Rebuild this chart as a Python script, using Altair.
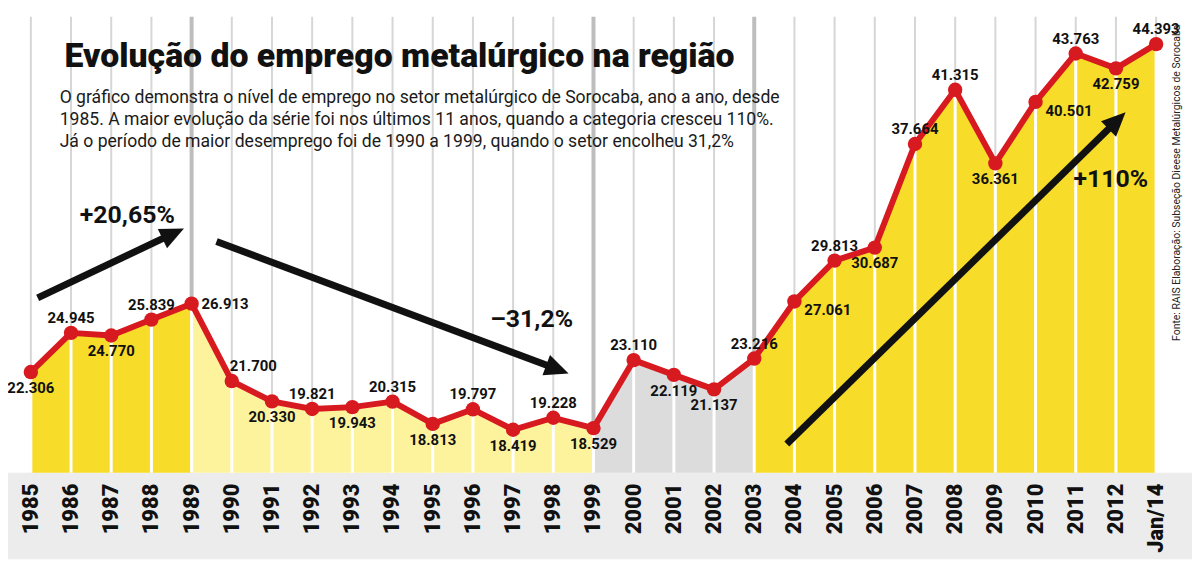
import math
import altair as alt
import pandas as pd

# ---------------- data ----------------
years = ["1985", "1986", "1987", "1988", "1989", "1990", "1991", "1992", "1993", "1994",
         "1995", "1996", "1997", "1998", "1999", "2000", "2001", "2002", "2003", "2004",
         "2005", "2006", "2007", "2008", "2009", "2010", "2011", "2012", "Jan/14"]
values = [22306, 24945, 24770, 25839, 26913, 21700, 20330, 19821, 19943, 20315,
          18813, 19797, 18419, 19228, 18529, 23110, 22119, 21137, 23216, 27061,
          29813, 30687, 37664, 41315, 36361, 40501, 43763, 42759, 44393]
# where each value label sits relative to its point
placement = ["b", "a", "b", "a", "r", "ar", "b", "a", "b", "a",
             "b", "a", "b", "a", "b", "a", "b", "b", "a", "br",
             "a", "b", "a", "a", "b", "br", "a", "b", "a"]
# coloured periods (first index, last index)
periods = [("p1", 0, 4), ("p2", 4, 14), ("p3", 14, 18), ("p4", 18, 28)]
period_colors = ["#f7dc2a", "#fdf39c", "#dcdcdc", "#f7dc2a"]
thick_years = ["1989", "1999", "2003"]

# annotation arrows (start index, start value) -> (tip index, tip value)
arrow_start_x = [0.17, 4.62, 18.81]
arrow_start_y = [27300, 31100, 17460]
arrow_tip_x = [3.81, 13.38, 27.24]
arrow_tip_y = [31980, 22210, 39800]
ann_text = ["+20,65%", "\u201331,2%", "+110%"]
ann_x = [2.40, 12.46, 26.87]
ann_y = [32850, 25870, 35320]

title = "Evolução do emprego metalúrgico na região"
subtitle = [
    "O gráfico demonstra o nível de emprego no setor metalúrgico de Sorocaba, ano a ano, desde",
    "1985. A maior evolução da série foi nos últimos 11 anos, quando a categoria cresceu 110%.",
    "Já o período de maior desemprego foi de 1990 a 1999, quando o setor encolheu 31,2%",
]
source = "Fonte: RAIS  Elaboração: Subseção Dieese Metalúrgicos de Sorocaba"

# ---------------- scales ----------------
W, H = 1192, 553
X0, X1 = -0.5685, 28.893
Y0, Y1 = 9706, 46700
BASE = 15525
GRID_TOP = 46230

xs = alt.Scale(domain=[X0, X1], nice=False, zero=False)
ys = alt.Scale(domain=[Y0, Y1], nice=False, zero=False)


def px(i):
    return (i - X0) / (X1 - X0) * W


def py(v):
    return H - (v - Y0) / (Y1 - Y0) * H


def ix(p):
    return X0 + p / W * (X1 - X0)


def iy(p):
    return Y0 + (H - p) / H * (Y1 - Y0)


def fmt(v):
    return f"{v:,}".replace(",", ".")


pts = pd.DataFrame({
    "i": list(range(len(years))),
    "year": years,
    "v": values,
    "lab": [fmt(v) for v in values],
    "pos": placement,
    "base": BASE,
    "top": GRID_TOP,
    "thick": [y in thick_years for y in years],
})

# arrows: shaft and head in data coordinates
shafts, heads = [], []
for sx_, sy_, tx_, ty_ in zip(arrow_start_x, arrow_start_y, arrow_tip_x, arrow_tip_y):
    p0x, p0y = px(sx_), py(sy_)
    p1x, p1y = px(tx_), py(ty_)
    dx, dy = p1x - p0x, p1y - p0y
    L = math.hypot(dx, dy)
    ux, uy = dx / L, dy / L
    ex, ey = p1x - ux * 14, p1y - uy * 14
    hx, hy = p1x - ux * 12, p1y - uy * 12
    ang = math.degrees(math.atan2(dx, -dy)) % 360
    shafts.append({"x1": sx_, "y1": sy_, "x2": ix(ex), "y2": iy(ey)})
    heads.append({"x": ix(hx), "y": iy(hy), "ang": ang})
shaft_df = pd.DataFrame(shafts)
head_df = pd.DataFrame(heads)
ann_df = pd.DataFrame({"x": ann_x, "y": ann_y, "t": ann_text})

X = alt.X("i:Q", scale=xs, axis=None)

band = alt.Chart(pd.DataFrame({"a": [BASE], "b": [Y0]})).mark_rect(color="#ececec").encode(
    x=alt.value(0), x2=alt.value(W),
    y=alt.Y("a:Q", scale=ys, axis=None), y2="b:Q")

grid_thin = alt.Chart(pts).transform_filter("!datum.thick").mark_rule(
    color="#d6d6d6", strokeWidth=2).encode(
    x=X, y=alt.Y("top:Q", scale=ys, axis=None), y2="base:Q")
grid_thick = alt.Chart(pts).transform_filter("datum.thick").mark_rule(
    color="#bdbdbd", strokeWidth=4).encode(
    x=X, y=alt.Y("top:Q", scale=ys, axis=None), y2="base:Q")

area_layers = []
for (name, a, b), col in zip(periods, period_colors):
    seg = pd.DataFrame({"i": list(range(a, b + 1)), "v": values[a:b + 1]})
    seg["base"] = BASE
    area_layers.append(
        alt.Chart(seg).mark_area(color=col, opacity=1, line=False).encode(
            x=alt.X("i:Q", scale=xs, axis=None),
            y=alt.Y("v:Q", scale=ys, axis=None),
            y2=alt.Y2("base:Q"),
        )
    )

white = alt.Chart(pts).mark_rule(color="white", strokeWidth=3).encode(
    x=X, y=alt.Y("v:Q", scale=ys, axis=None), y2="base:Q")

red = "#d71920"
line = alt.Chart(pts).mark_line(color=red, strokeWidth=6, strokeJoin="round").encode(
    x=X, y=alt.Y("v:Q", scale=ys, axis=None), order="i:Q")
dots = alt.Chart(pts).mark_circle(color=red, size=210, opacity=1).encode(
    x=X, y=alt.Y("v:Q", scale=ys, axis=None))

lab_style = dict(font="Roboto", fontSize=15, fontWeight="bold", color="#111111", baseline="middle")


def labels(code, **kw):
    return alt.Chart(pts).transform_filter(f"datum.pos == '{code}'").mark_text(**lab_style, **kw).encode(
        x=X, y=alt.Y("v:Q", scale=ys, axis=None), text="lab:N")


lab_a = labels("a", dy=-15, align="center")
lab_b = labels("b", dy=16, align="center")
lab_r = labels("r", dx=10, dy=0, align="left")
lab_ar = labels("ar", dx=-2, dy=-15, align="left")
lab_br = labels("br", dx=10, dy=9, align="left")

year_labels = alt.Chart(pts).mark_text(
    font="Roboto", fontSize=22, fontWeight=900, color="#111111",
    angle=270, align="right", baseline="middle").encode(
    x=X, y=alt.value(477), text="year:N")

shaft = alt.Chart(shaft_df).mark_rule(color="#111111", strokeWidth=7).encode(
    x=alt.X("x1:Q", scale=xs, axis=None), y=alt.Y("y1:Q", scale=ys, axis=None),
    x2="x2:Q", y2="y2:Q")
head = alt.Chart(head_df).mark_point(
    shape="M0,-1L0.9,1L-0.9,1Z", filled=True, color="#111111", opacity=1, size=576, strokeWidth=0).encode(
    x=alt.X("x:Q", scale=xs, axis=None), y=alt.Y("y:Q", scale=ys, axis=None),
    angle=alt.Angle("ang:Q", scale=None))
ann = alt.Chart(ann_df).mark_text(
    font="Roboto", fontSize=25, fontWeight="bold", color="#111111", align="center", baseline="middle").encode(
    x=alt.X("x:Q", scale=xs, axis=None), y=alt.Y("y:Q", scale=ys, axis=None), text="t:N")

title_m = alt.Chart(pd.DataFrame({"t": [title]})).mark_text(
    font="Roboto", fontSize=34, fontWeight=900, color="#111111", align="left", baseline="alphabetic").encode(
    x=alt.value(57), y=alt.value(58), text="t:N")

sub_layers = []
for k, txt in enumerate(subtitle):
    sub_layers.append(
        alt.Chart(pd.DataFrame({"t": [txt]})).mark_text(
            font="Roboto", fontSize=17.7, color="#1a1a1a", align="left", baseline="alphabetic").encode(
            x=alt.value(52), y=alt.value(94 + 22 * k), text="t:N"))

src = alt.Chart(pd.DataFrame({"t": [source]})).mark_text(
    font="Roboto", fontSize=10.5, color="#222222",
    angle=270, align="center", baseline="middle").encode(
    x=alt.value(1177), y=alt.value(174), text="t:N")

chart = alt.layer(
    band, grid_thin, grid_thick, *area_layers, white, line, dots,
    lab_a, lab_b, lab_r, lab_ar, lab_br, year_labels,
    shaft, head, ann, title_m, *sub_layers, src,
).properties(
    width=W, height=H, autosize=alt.AutoSizeParams(type="none"), padding=0, background="white"
).configure_view(stroke=None)

chart.save("out.html", embed_options={"renderer": "svg", "actions": False})
